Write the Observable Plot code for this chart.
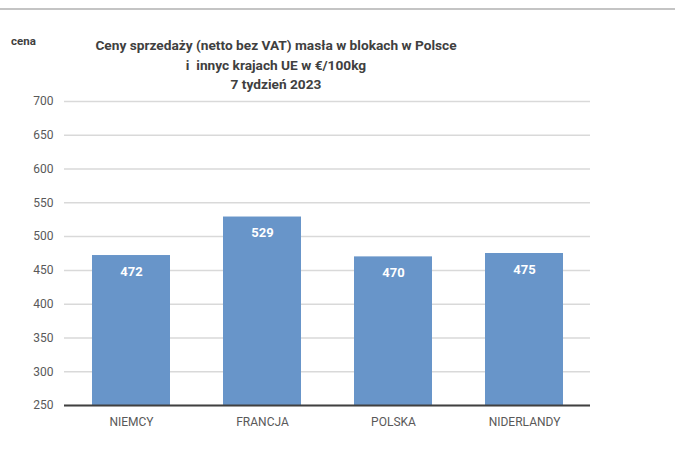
<!DOCTYPE html>
<html><head><meta charset="utf-8">
<script src="https://cdn.jsdelivr.net/npm/d3@7"></script>
<script src="https://cdn.jsdelivr.net/npm/@observablehq/plot@0.6"></script>
<style>
body{margin:0;background:#fff;}
#wrap{position:relative;width:675px;height:455px;font-family:Roboto,"Liberation Sans",sans-serif;}
#topline{position:absolute;left:0;top:8px;width:675px;height:2px;background:#c4c4c4;}
#cena{position:absolute;left:11px;top:34px;font-size:11.5px;font-weight:bold;color:#404040;}
#title{position:absolute;left:76px;width:400px;top:36px;text-align:center;font-size:13.7px;font-weight:bold;color:#404040;line-height:19.5px;white-space:nowrap;}
#chart{position:absolute;left:0;top:0;}
</style></head>
<body><div id="wrap"><div id="chart"></div><div id="topline"></div><div id="cena">cena</div>
<div id="title">Ceny sprzedaży (netto bez VAT) masła w blokach w Polsce<br>i&nbsp; innyc krajach UE w €/100kg<br>7 tydzień 2023</div></div>
<script>
const countries = ["NIEMCY","FRANCJA","POLSKA","NIDERLANDY"];
const prices = [472, 529, 470, 475];
const yTicks = [250,300,350,400,450,500,550,600,650,700];
const data = countries.map((c,i)=>({country:c, price:prices[i]}));
const chart = Plot.plot({
  width:675, height:455,
  marginTop:101, marginBottom:50, marginLeft:64, marginRight:85,
  style:{fontFamily:'Roboto,"Liberation Sans",sans-serif', fontSize:"12px", color:"#595959", background:"transparent"},
  x:{domain:countries, paddingInner:0.405, paddingOuter:0.2, label:null, tickSize:0, tickPadding:12},
  y:{domain:[250,700], ticks:yTicks, label:null, tickSize:0, tickPadding:11},
  marks:[
    Plot.gridY(yTicks, {stroke:"#d9d9d9", strokeOpacity:1, strokeWidth:1.5}),
    Plot.barY(data, {x:"country", y1:250, y2:"price", fill:"#6895c9"}),
    Plot.text(data, {x:"country", y:"price", text:d=>String(d.price), dy:16, fill:"white", fontWeight:"bold", fontSize:13}),
    Plot.ruleY([250], {stroke:"#404040", strokeWidth:2})
  ]
});
document.getElementById("chart").appendChild(chart);
</script></body></html>
